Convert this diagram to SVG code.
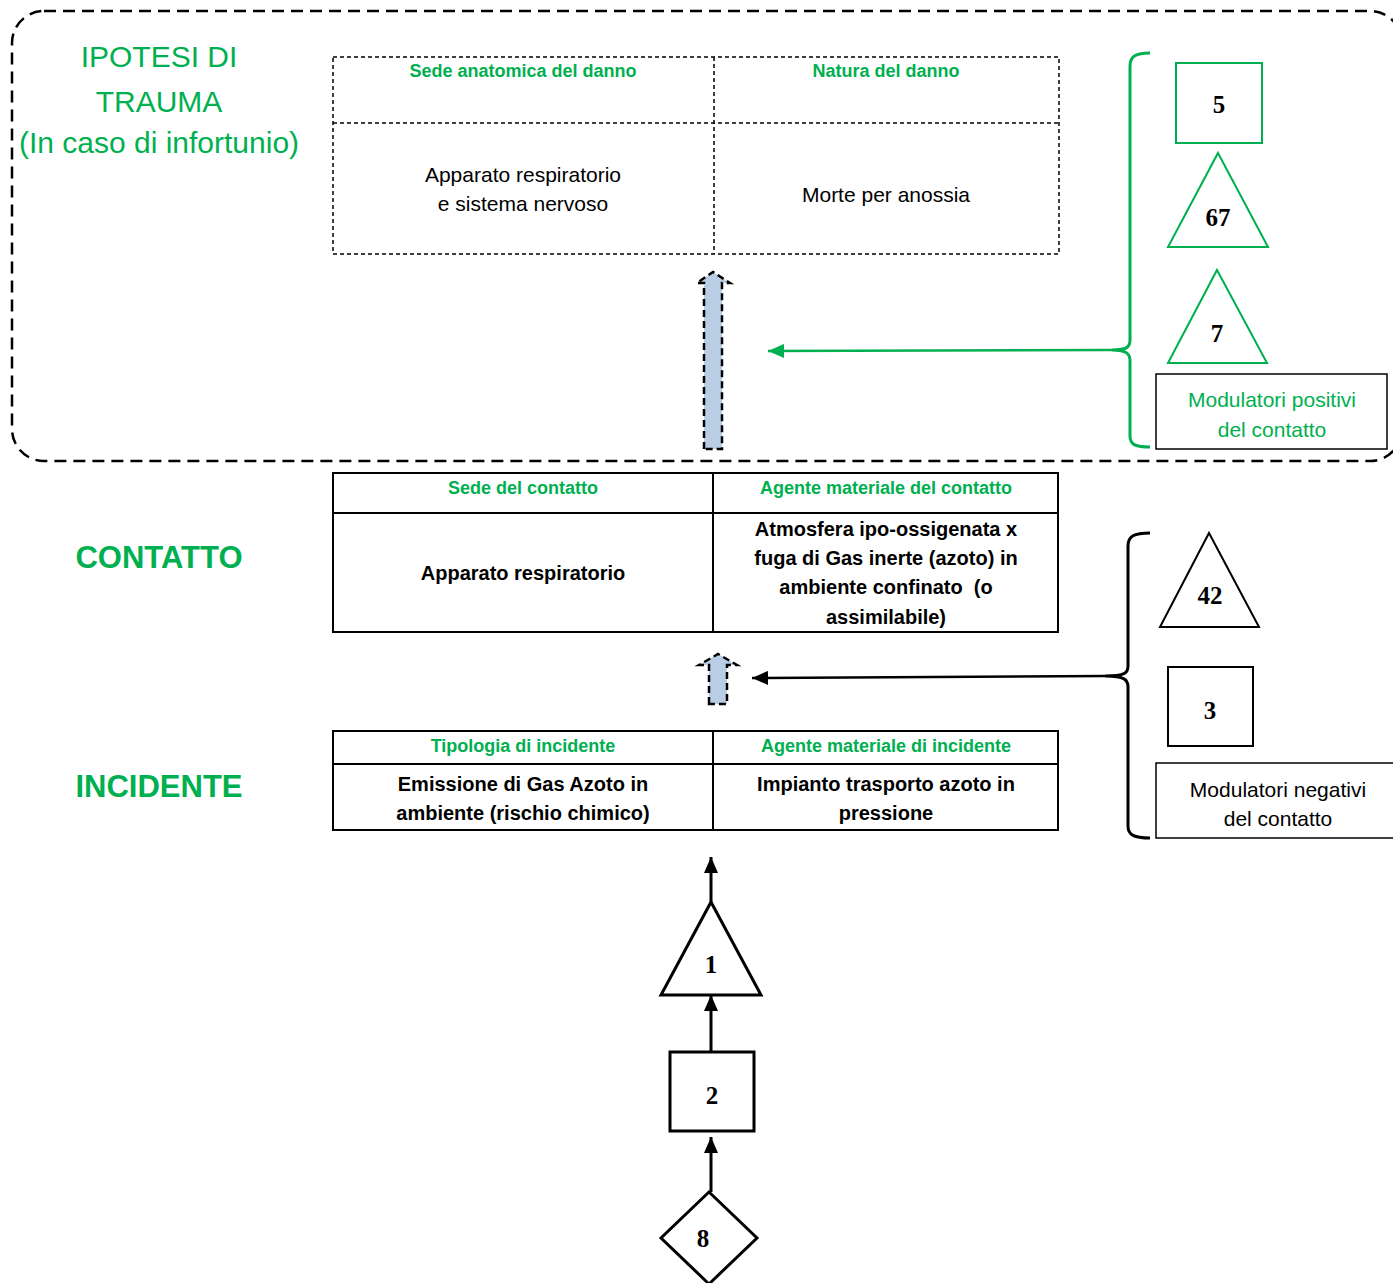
<svg xmlns="http://www.w3.org/2000/svg" width="1393" height="1283" viewBox="0 0 1393 1283">
<style>
text{font-family:"Liberation Sans",Arial,sans-serif;text-anchor:middle}
.title{font-size:30px}
.big{font-size:31px;font-weight:bold}
.hdr{font-size:18px;font-weight:bold;fill:#00b050}
.body{font-size:21px;fill:#000}
.bold{font-size:20px;font-weight:bold;fill:#000}
.num{font-family:"Liberation Serif","Times New Roman",serif;font-size:25px;font-weight:bold;fill:#000}
.g{fill:#00b050}
.dtab{fill:none;stroke:#000;stroke-width:1.5;stroke-dasharray:4 3}
.stab{fill:none;stroke:#000;stroke-width:2}
.blue{fill:#b9cde5;stroke:#000;stroke-width:2.5;stroke-dasharray:7 4}
.gs{fill:#fff;stroke:#00b050;stroke-width:2}
.bs{fill:#fff;stroke:#000;stroke-width:2}
.bs3{fill:#fff;stroke:#000;stroke-width:3}
</style>
<defs>
<marker id="ag" markerUnits="userSpaceOnUse" markerWidth="18" markerHeight="14" refX="16" refY="7" orient="auto"><path d="M0,0 L16,7 L0,14 Z" fill="#00b050"/></marker>
<marker id="ab" markerUnits="userSpaceOnUse" markerWidth="18" markerHeight="14" refX="16" refY="7" orient="auto"><path d="M0,0 L16,7 L0,14 Z" fill="#000"/></marker>
</defs>
<rect width="1393" height="1283" fill="#fff"/>

<g id="trauma-area">
<rect x="12" y="11" width="1390" height="450" rx="32" fill="none" stroke="#000" stroke-width="2.5" stroke-dasharray="12 7"/>
<text class="title g" x="159" y="67">IPOTESI DI</text>
<text class="title g" x="159" y="112">TRAUMA</text>
<text class="title g" x="159" y="153">(In caso di infortunio)</text>
</g>

<g id="table-trauma">
<rect class="dtab" x="333" y="57" width="726" height="197"/>
<line class="dtab" x1="714" y1="57" x2="714" y2="254"/>
<line class="dtab" x1="333" y1="123" x2="1059" y2="123"/>
<text class="hdr" x="523" y="77">Sede anatomica del danno</text>
<text class="hdr" x="886" y="77">Natura del danno</text>
<text class="body" x="523" y="182">Apparato respiratorio</text>
<text class="body" x="523" y="211">e sistema nervoso</text>
<text class="body" x="886" y="202">Morte per anossia</text>
</g>

<g id="label-contatto"><text class="big g" x="159" y="568">CONTATTO</text></g>
<g id="label-incidente"><text class="big g" x="159" y="797">INCIDENTE</text></g>

<g id="table-contatto">
<rect class="stab" x="333" y="473" width="725" height="159"/>
<line class="stab" x1="713" y1="473" x2="713" y2="632"/>
<line class="stab" x1="333" y1="513" x2="1058" y2="513"/>
<text class="hdr" x="523" y="494">Sede del contatto</text>
<text class="hdr" x="886" y="494">Agente materiale del contatto</text>
<text class="bold" x="523" y="580">Apparato respiratorio</text>
<text class="bold" x="886" y="536">Atmosfera ipo-ossigenata x</text>
<text class="bold" x="886" y="565">fuga di Gas inerte (azoto) in</text>
<text class="bold" x="886" y="594" xml:space="preserve">ambiente confinato  (o</text>
<text class="bold" x="886" y="624">assimilabile)</text>
</g>

<g id="table-incidente">
<rect class="stab" x="333" y="731" width="725" height="99"/>
<line class="stab" x1="713" y1="731" x2="713" y2="830"/>
<line class="stab" x1="333" y1="764" x2="1058" y2="764"/>
<text class="hdr" x="523" y="752">Tipologia di incidente</text>
<text class="hdr" x="886" y="752">Agente materiale di incidente</text>
<text class="bold" x="523" y="791">Emissione di Gas Azoto in</text>
<text class="bold" x="523" y="820">ambiente (rischio chimico)</text>
<text class="bold" x="886" y="791">Impianto trasporto azoto in</text>
<text class="bold" x="886" y="820">pressione</text>
</g>

<g id="node-5"><rect class="gs" x="1176" y="63" width="86" height="80"/><text class="num" x="1219" y="113">5</text></g>
<g id="node-67"><polygon class="gs" points="1218,153 1268,247 1168,247"/><text class="num" x="1218" y="226">67</text></g>
<g id="node-7"><polygon class="gs" points="1217,270 1267,363 1168,363"/><text class="num" x="1217" y="342">7</text></g>
<g id="label-positivi">
<rect x="1156" y="374" width="231" height="75" fill="#fff" stroke="#000" stroke-width="1.5"/>
<text class="body g" x="1272" y="407">Modulatori positivi</text>
<text class="body g" x="1272" y="437">del contatto</text>
</g>

<g id="node-42"><polygon class="bs" points="1209,533 1259,627 1160,627"/><text class="num" x="1210" y="604">42</text></g>
<g id="node-3"><rect class="bs" x="1168" y="667" width="85" height="79"/><text class="num" x="1210" y="719">3</text></g>
<g id="label-negativi">
<rect x="1156" y="763" width="250" height="75" fill="#fff" stroke="#000" stroke-width="1.5"/>
<text class="body" x="1278" y="797">Modulatori negativi</text>
<text class="body" x="1278" y="826">del contatto</text>
</g>

<g id="node-1"><polygon class="bs3" points="711,902 761,995 661,995"/><text class="num" x="711" y="973">1</text></g>
<g id="node-2"><rect class="bs3" x="670" y="1052" width="84" height="79"/><text class="num" x="712" y="1104">2</text></g>
<g id="node-8"><polygon class="bs3" points="709,1192 757,1238 709,1284 661,1238"/><text class="num" x="703" y="1247">8</text></g>

<g id="connectors">
<path class="blue" d="M704,449 L704,283 L697,283 L713,272 L730,283 L722,283 L722,449 Z"/>
<path class="blue" d="M709,704 L709,665 L699,665 L718,654 L737,665 L727,665 L727,704 Z"/>
<path d="M1150,53 C1136,53 1130,56 1130,66 L1130,340 C1130,347 1127,350 1112,350 C1127,350 1130,354 1130,361 L1130,436 C1130,445 1136,447 1150,447" fill="none" stroke="#00b050" stroke-width="3"/>
<line x1="1112" y1="350" x2="768" y2="351" stroke="#00b050" stroke-width="2.5" marker-end="url(#ag)"/>
<path d="M1150,533 C1134,533 1128,536 1128,546 L1128,666 C1128,673 1125,676 1105,676 C1125,676 1128,680 1128,687 L1128,826 C1128,835 1134,838 1150,838" fill="none" stroke="#000" stroke-width="3"/>
<line x1="1105" y1="676" x2="752" y2="678" stroke="#000" stroke-width="2.5" marker-end="url(#ab)"/>
<line x1="711" y1="902" x2="711" y2="857" stroke="#000" stroke-width="3" marker-end="url(#ab)"/>
<line x1="711" y1="1052" x2="711" y2="995" stroke="#000" stroke-width="3" marker-end="url(#ab)"/>
<line x1="711" y1="1192" x2="711" y2="1137" stroke="#000" stroke-width="3" marker-end="url(#ab)"/>
</g>
</svg>
